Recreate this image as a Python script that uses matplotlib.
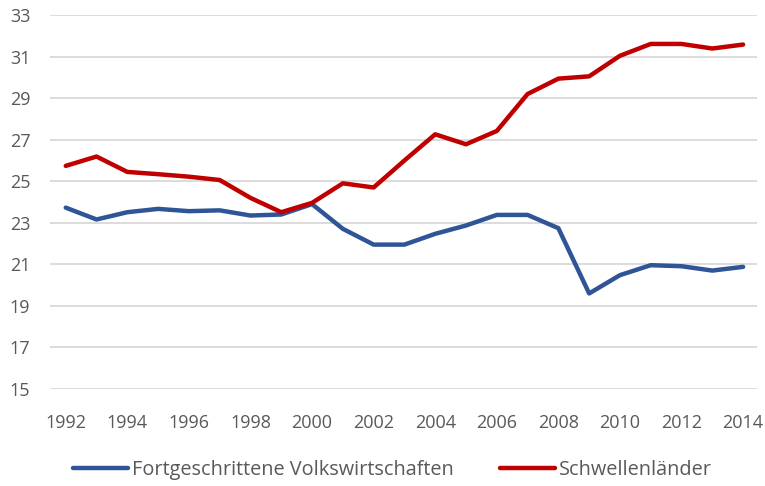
import matplotlib.pyplot as plt
import numpy as np

years = list(range(1992, 2015))
fortgeschritten = [23.73, 23.16, 23.51, 23.67, 23.56, 23.60, 23.35, 23.40, 23.90, 22.71, 21.95, 21.95,
                   22.47, 22.87, 23.38, 23.38, 22.74, 19.60, 20.48, 20.96, 20.91, 20.70, 20.88]
schwellen = [25.74, 26.19, 25.45, 25.34, 25.22, 25.06, 24.20, 23.51, 23.96, 24.90, 24.70, 26.00,
             27.26, 26.78, 27.42, 29.20, 29.94, 30.05, 31.04, 31.61, 31.61, 31.39, 31.58]
yticks = list(range(15, 34, 2))
xticks = list(range(1992, 2015, 2))

plt.rcParams['font.family'] = ['Open Sans', 'DejaVu Sans']
text_col = '#595959'

fig = plt.figure(figsize=(7.65, 4.86), dpi=100)
ax = fig.add_axes([0.065, 0.1996, 0.9245, 0.7694])

ax.plot(years, fortgeschritten, color='#2F5597', lw=3.2, label='Fortgeschrittene Volkswirtschaften',
        solid_capstyle='round', solid_joinstyle='round')
ax.plot(years, schwellen, color='#C00000', lw=3.2, label='Schwellenländer',
        solid_capstyle='round', solid_joinstyle='round')

ax.set_xlim(1991.48, 2014.45)
ax.set_ylim(15, 33)
ax.set_yticks(yticks)
ax.set_xticks(xticks)
ax.grid(axis='y', color='#D9D9D9', lw=1.3)
ax.set_axisbelow(True)
for s in ax.spines.values():
    s.set_visible(False)
ax.tick_params(length=0, labelsize=13, colors=text_col)
ax.tick_params(axis='x', pad=18)
ax.tick_params(axis='y', pad=14)

leg = fig.legend(loc='center', bbox_to_anchor=(0.513, 0.032), ncol=2, frameon=False,
                 fontsize=14.3, handlelength=2.8, handletextpad=0.2, columnspacing=2.3)
for t in leg.get_texts():
    t.set_color(text_col)

fig.savefig('out.png', dpi=100)
